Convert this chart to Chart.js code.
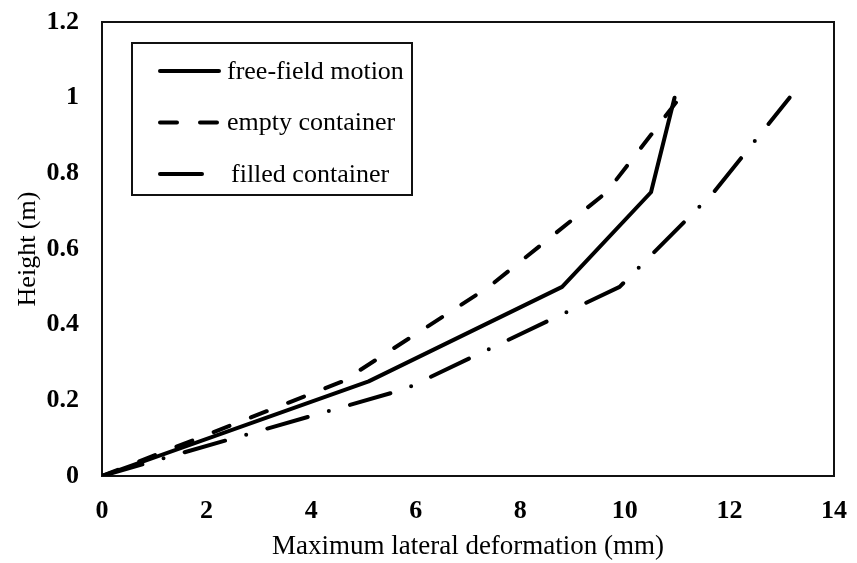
<!DOCTYPE html>
<html>
<head>
<meta charset="utf-8">
<script src="https://cdn.jsdelivr.net/npm/chart.js@4.4.0/dist/chart.umd.min.js"></script>
<style>
  html, body { margin: 0; padding: 0; background: #fff; }
  #wrap { width: 857px; height: 563px; }
</style>
</head>
<body>
<div id="wrap"><canvas id="defChart" width="857" height="563"></canvas></div>
<script>
// deformation (mm) vs height (m)
let seriesNames = ['free-field motion', 'empty container', 'filled container'];
let freeX = [0, 5.1, 8.8, 10.5, 10.95];
let freeY = [0, 0.25, 0.5, 0.75, 1.0];
let emptyX = [0, 4.6, 7.4, 9.65, 11.05];
let emptyY = [0, 0.25, 0.5, 0.75, 1.0];
let filledX = [0, 5.8, 9.9, 11.7, 13.15];
let filledY = [0, 0.23, 0.5, 0.75, 1.0];
let xTicks = [0, 2, 4, 6, 8, 10, 12, 14];
let yTicks = [0, 0.2, 0.4, 0.6, 0.8, 1, 1.2];

const SERIF = '"Liberation Serif", "Times New Roman", serif';

function toPoints(xs, ys) {
    return xs.map((x, i) => ({ x: x, y: ys[i] }));
}

function buildData() {
    const dashes = [[], [17, 23], [42, 22, 0, 22]];
    const pts = [toPoints(freeX, freeY), toPoints(emptyX, emptyY), toPoints(filledX, filledY)];
    return {
        datasets: seriesNames.map((name, i) => ({
            label: name,
            data: pts[i],
            borderColor: '#000',
            backgroundColor: '#000',
            borderWidth: 4,
            borderDash: dashes[i],
            borderCapStyle: 'round',
            borderJoinStyle: 'round',
            pointRadius: 0,
            tension: 0,
            fill: false
        }))
    };
}

// plot frame on all four sides
const framePlugin = {
    id: 'frame',
    beforeDatasetsDraw(chart) {
        const a = chart.chartArea, c = chart.ctx;
        c.save();
        c.strokeStyle = '#111';
        c.lineWidth = 2;
        c.strokeRect(a.left, a.top, a.right - a.left, a.bottom - a.top);
        c.restore();
    }
};

// boxed legend inside the plot, like the original
const boxLegend = {
    id: 'boxLegend',
    afterDraw(chart) {
        const c = chart.ctx;
        c.save();
        c.fillStyle = '#fff';
        c.fillRect(132, 43, 280, 152);
        c.strokeStyle = '#111';
        c.lineWidth = 2;
        c.strokeRect(132, 43, 280, 152);
        c.font = '26px ' + SERIF;
        c.textBaseline = 'middle';
        c.fillStyle = '#000';
        chart.data.datasets.forEach((ds, i) => {
            const y = 71 + i * 51.5;
            c.beginPath();
            c.strokeStyle = '#000';
            c.lineWidth = 4;
            c.lineCap = 'round';
            c.setLineDash(ds.borderDash);
            c.moveTo(160, y);
            c.lineTo(219, y);
            c.stroke();
            c.setLineDash([]);
            c.fillText(ds.label, i === 2 ? 231 : 227, y + 1);
        });
        c.restore();
    }
};

function createChart(ctx, chartData) {
    return new Chart(ctx, {
        type: 'line',
        data: chartData,
        plugins: [framePlugin, boxLegend],
        options: {
            responsive: false,
            animation: false,
            layout: { padding: { top: 22, right: 23, left: 0, bottom: 0 } },
            scales: {
                x: {
                    type: 'linear',
                    min: 0,
                    max: 14,
                    afterBuildTicks(scale) { scale.ticks = xTicks.map(v => ({ value: v })); },
                    afterFit(scale) {
                        scale.height = 87;
                        scale.paddingLeft = 0;
                        scale.paddingRight = 0;
                    },
                    grid: { display: false, drawTicks: false },
                    border: { display: false },
                    ticks: {
                        padding: 20,
                        color: '#000',
                        font: { family: SERIF, size: 26, weight: 'bold' },
                        maxRotation: 0
                    },
                    title: {
                        display: true,
                        text: 'Maximum lateral deformation (mm)',
                        color: '#000',
                        font: { family: SERIF, size: 27 },
                        padding: { top: 0, bottom: 0 }
                    }
                },
                y: {
                    type: 'linear',
                    min: 0,
                    max: 1.2,
                    afterBuildTicks(scale) { scale.ticks = yTicks.map(v => ({ value: v })); },
                    afterFit(scale) {
                        scale.width = 102;
                        scale.paddingTop = 0;
                        scale.paddingBottom = 0;
                    },
                    grid: { display: false, drawTicks: false },
                    border: { display: false },
                    ticks: {
                        padding: 23,
                        color: '#000',
                        font: { family: SERIF, size: 26, weight: 'bold' },
                        callback: v => String(+v.toFixed(1))
                    },
                    title: {
                        display: true,
                        text: 'Height (m)',
                        color: '#000',
                        font: { family: SERIF, size: 26 },
                        padding: { top: 13, bottom: 0 }
                    }
                }
            },
            plugins: {
                legend: { display: false },
                tooltip: { enabled: false }
            }
        }
    });
}

document.addEventListener('DOMContentLoaded', () => {
    const ctx = document.getElementById('defChart').getContext('2d');
    createChart(ctx, buildData());
});
</script>
</body>
</html>
